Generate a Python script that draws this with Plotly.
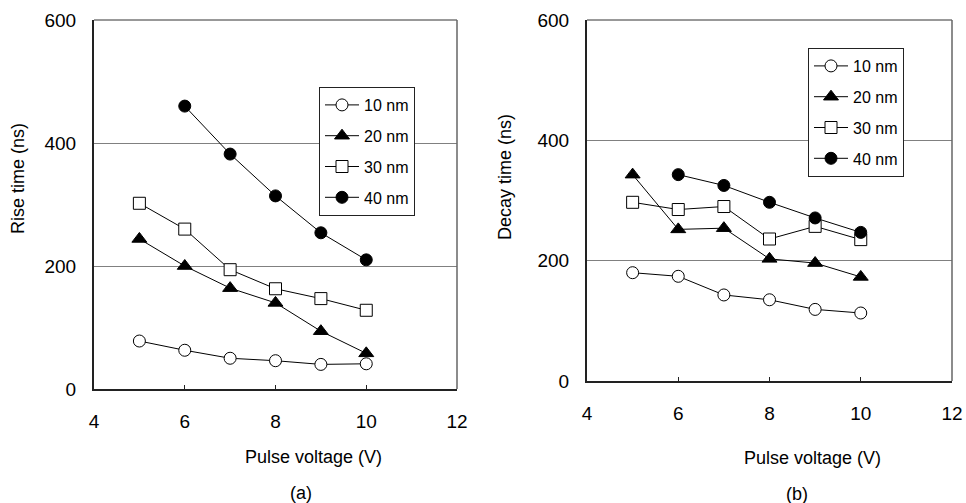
import plotly.graph_objects as go

# pulse voltage (V)
volt = [5, 6, 7, 8, 9, 10]
volt_40 = [6, 7, 8, 9, 10]

# rise time (ns), panel (a)
rise_10 = [78, 63, 50, 46, 40, 41]
rise_20 = [244, 200, 164, 140, 94, 58]
rise_30 = [302, 260, 194, 163, 147, 128]
rise_40 = [460, 382, 314, 254, 210]

# decay time (ns), panel (b)
decay_10 = [180, 174, 143, 135, 119, 113]
decay_20 = [343, 252, 254, 203, 196, 173]
decay_30 = [297, 285, 290, 236, 257, 235]
decay_40 = [343, 325, 297, 271, 247]

names = ["10 nm", "20 nm", "30 nm", "40 nm"]
symbols = ["circle", "triangle-up", "square", "circle"]
fills = ["white", "black", "white", "black"]

FONT = "Liberation Sans, Arial, sans-serif"
W, H = 966, 503


def px(x):
    return x / W


def py(y):
    return 1 - y / H


fig = go.Figure()

def add_series(xs, ys, i, xa, ya, leg):
    fig.add_trace(go.Scatter(
        x=xs, y=ys, name=names[i], mode="lines+markers",
        line=dict(color="black", width=1),
        marker=dict(symbol=symbols[i], size=12 if i != 1 else 13, color=fills[i],
                    line=dict(color="black", width=1)),
        xaxis=xa, yaxis=ya, legend=leg, legendgroup=leg + str(i),
    ))

left = [(volt, rise_10), (volt, rise_20), (volt, rise_30), (volt_40, rise_40)]
right = [(volt, decay_10), (volt, decay_20), (volt, decay_30), (volt_40, decay_40)]
for i, (xs, ys) in enumerate(left):
    add_series(xs, ys, i, "x", "y", "legend")
for i, (xs, ys) in enumerate(right):
    add_series(xs, ys, i, "x2", "y2", "legend2")

xax = dict(range=[4, 12], dtick=2, tick0=4, showgrid=False, zeroline=False,
           showline=True, linewidth=2, linecolor="#222", automargin=False,
           ticks="inside", ticklen=4, tickwidth=1, tickcolor="#222",
           ticklabelstandoff=14, ticklabeloverflow="allow",
           tickfont=dict(size=19, color="black"))
yax = dict(range=[0, 600], dtick=200, showgrid=True, gridcolor="#808080", gridwidth=1,
           zeroline=False, showline=True, linewidth=2, linecolor="#222", automargin=False,
           ticks="", ticklabelstandoff=12, tickfont=dict(size=19, color="black"))

legbox = dict(bgcolor="white", bordercolor="#222", borderwidth=1,
              font=dict(size=16, color="black", family=FONT),
              tracegroupgap=7, itemwidth=34, xanchor="left", yanchor="top")

fig.update_layout(
    template="none",
    width=W, height=H,
    margin=dict(l=0, r=0, t=0, b=0, autoexpand=False),
    paper_bgcolor="white", plot_bgcolor="white",
    font=dict(family=FONT, color="black"),
    xaxis=dict(xax, domain=[px(94), px(457)], anchor="y"),
    yaxis=dict(yax, domain=[py(389), py(20)], anchor="x"),
    xaxis2=dict(xax, domain=[px(587), px(952)], anchor="y2"),
    yaxis2=dict(yax, domain=[py(381), py(20)], anchor="x2"),
    legend=dict(legbox, x=px(319), y=py(87)),
    legend2=dict(legbox, x=px(808), y=py(48)),
    showlegend=True,
)

# thin top / right frame lines
for xr, yr in [("x", "y"), ("x2", "y2")]:
    fig.add_shape(type="line", xref=xr + " domain", yref=yr + " domain",
                  x0=0, x1=1, y0=1, y1=1, line=dict(color="#333", width=1))
    fig.add_shape(type="line", xref=xr + " domain", yref=yr + " domain",
                  x0=1, x1=1, y0=0, y1=1, line=dict(color="#666", width=1.5))

ann = [
    ("Pulse voltage (V)", 313, 457, 0),
    ("Pulse voltage (V)", 812, 458, 0),
    ("(a)", 301, 493, 0),
    ("(b)", 797, 494, 0),
    ("Rise time (ns)", 18, 179, -90),
    ("Decay time (ns)", 505, 177, -90),
]
for txt, ax, ay, ang in ann:
    fig.add_annotation(text=txt, x=px(ax), y=py(ay), xref="paper", yref="paper",
                       showarrow=False, textangle=ang, xanchor="center", yanchor="middle",
                       font=dict(size=18, color="black", family=FONT))

# drop the browser's default 8px page margin so the figure sits at (0, 0)
fig.write_html("out.html", config={"displayModeBar": False},
               post_script="document.body.style.margin = '0';")
